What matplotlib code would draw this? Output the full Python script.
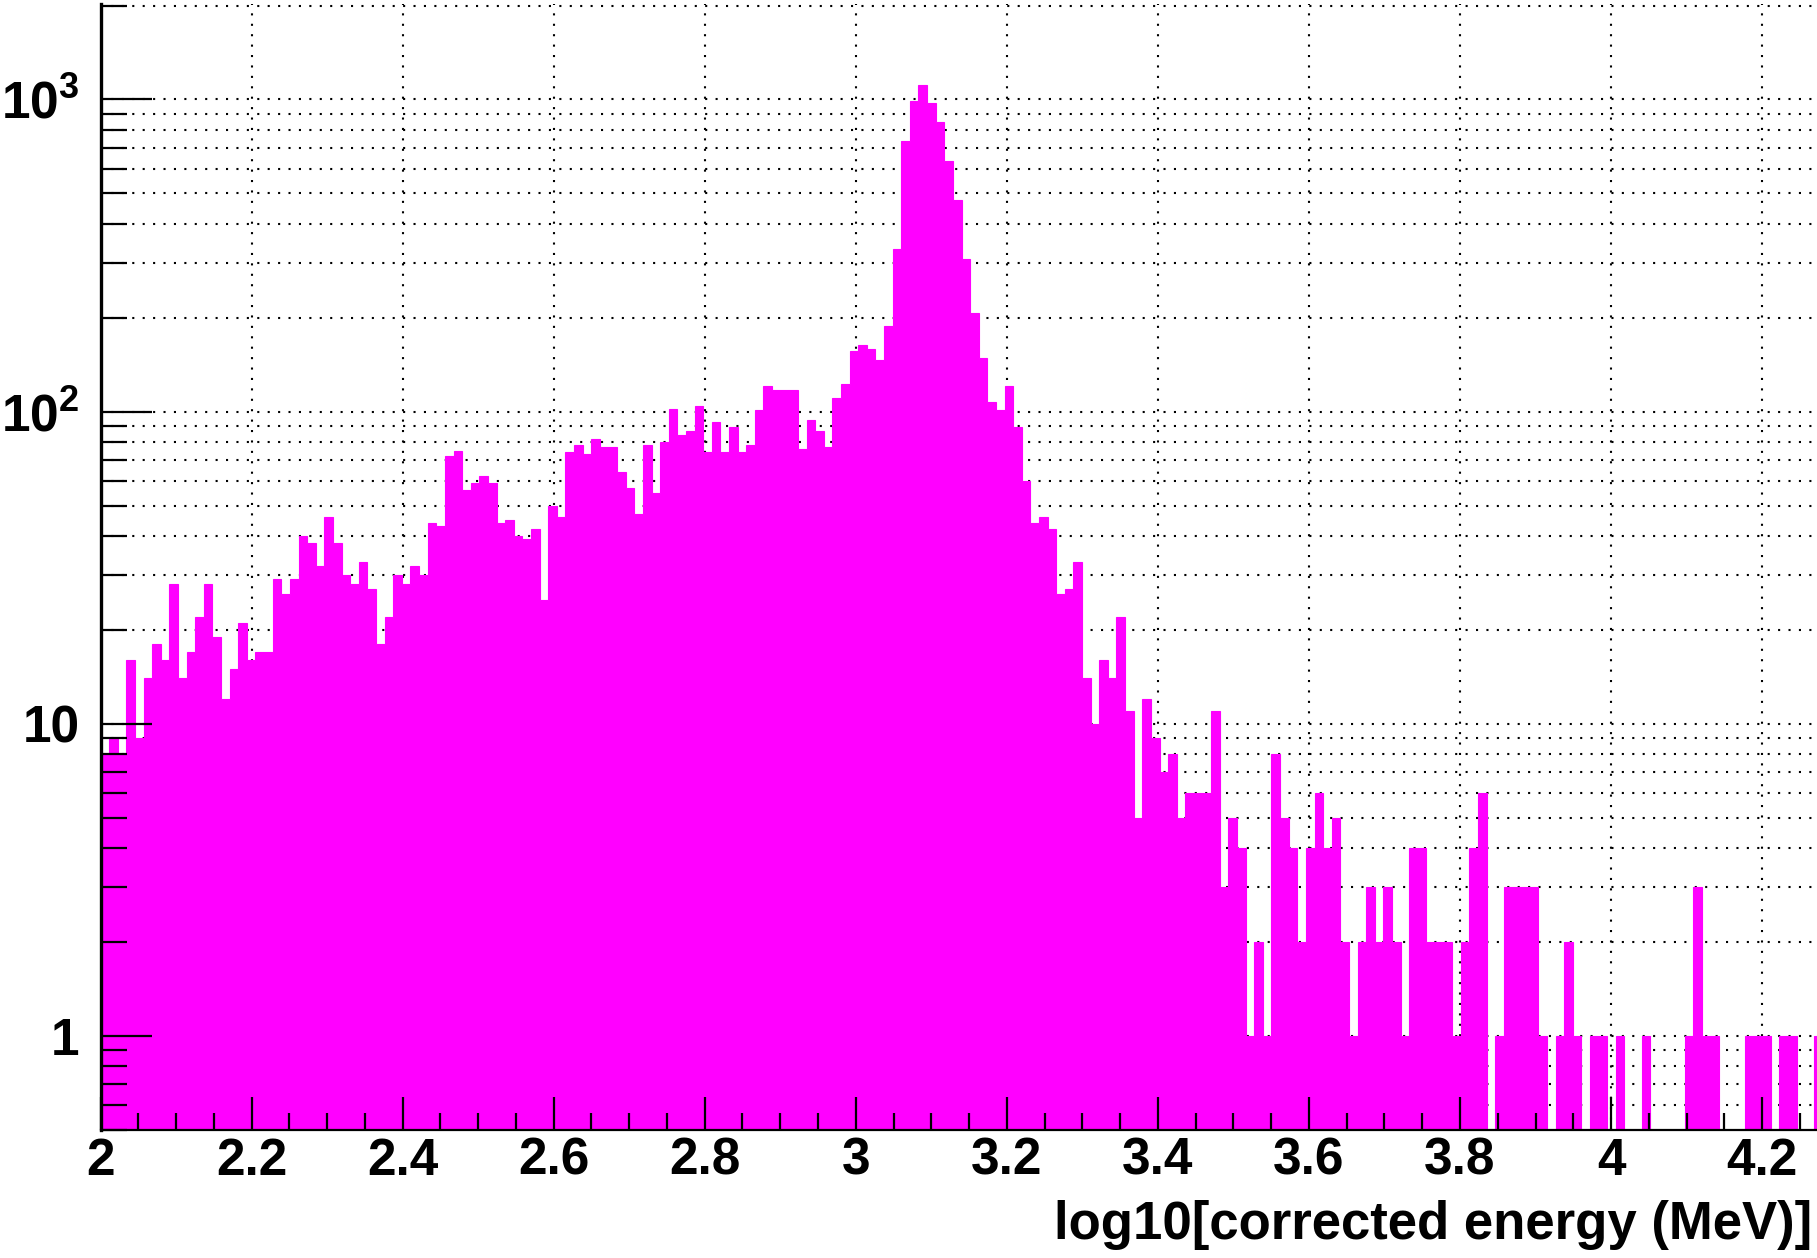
import numpy as np
import matplotlib
matplotlib.use("Agg")
import matplotlib.pyplot as plt
from matplotlib.ticker import LogLocator, FixedLocator, MultipleLocator, NullFormatter

# histogram settings (200 bins in log10 E)
x_min, x_max, n_bins = 2.0, 4.28, 200

# entries per bin
counts = [
    8, 9, 8, 16, 9, 14, 18, 16, 28, 14,
    17, 22, 28, 19, 12, 15, 21, 16, 17, 17,
    29, 26, 29, 40, 38, 32, 46, 38, 30, 28,
    33, 27, 18, 22, 30, 28, 32, 30, 44, 43,
    72, 75, 56, 59, 62, 59, 44, 45, 40, 39,
    42, 25, 50, 46, 74, 78, 73, 82, 77, 77,
    64, 57, 47, 78, 55, 80, 102, 84, 87, 104,
    74, 93, 74, 89, 74, 78, 101, 121, 117, 117,
    117, 76, 94, 87, 77, 111, 123, 156, 163, 159,
    146, 188, 332, 734, 986, 1113, 975, 847, 637, 475,
    309, 207, 149, 107, 101, 121, 89, 60, 44, 46,
    42, 26, 27, 33, 14, 10, 16, 14, 22, 11,
    5, 12, 9, 7, 8, 5, 6, 6, 6, 11,
    3, 5, 4, 1, 2, 1, 8, 5, 4, 2,
    4, 6, 4, 5, 2, 1, 2, 3, 2, 3,
    2, 1, 4, 4, 2, 2, 2, 1, 2, 4,
    6, 0, 1, 3, 3, 3, 3, 1, 0, 1,
    2, 1, 0, 1, 1, 0, 1, 0, 0, 1,
    0, 0, 0, 0, 1, 3, 1, 1, 0, 0,
    0, 1, 1, 1, 0, 1, 1, 0, 0, 1,
]

x_ticks = [2.0, 2.2, 2.4, 2.6, 2.8, 3.0, 3.2, 3.4, 3.6, 3.8, 4.0, 4.2]
x_tick_labels = ["2", "2.2", "2.4", "2.6", "2.8", "3", "3.2", "3.4", "3.6", "3.8", "4", "4.2"]
y_ticks = [1, 10, 100, 1000]
y_tick_labels = ["1", "10", "$10^{2}$", "$10^{3}$"]
y_min, y_max = 0.5, 2030
x_title = "log10[corrected energy (MeV)]"

plt.rcParams["font.family"] = ["Liberation Sans", "DejaVu Sans"]
plt.rcParams["font.weight"] = "bold"
plt.rcParams["mathtext.fontset"] = "custom"
plt.rcParams["mathtext.rm"] = "Liberation Sans:bold"
plt.rcParams["mathtext.it"] = "Liberation Sans:bold"
plt.rcParams["mathtext.bf"] = "Liberation Sans:bold"

edges = np.linspace(x_min, x_max, n_bins + 1)
centers = 0.5 * (edges[:-1] + edges[1:])

fig = plt.figure(figsize=(18.17, 12.58), dpi=100)
ax = fig.add_axes([100.5 / 1817, 128 / 1258, 1722 / 1817, 1126.5 / 1258])

ax.set_yscale("log", nonpositive="clip")
ax.hist(centers, bins=edges, weights=counts, histtype="stepfilled",
        facecolor="#ff00ff", edgecolor="#ff00ff", linewidth=0.8, zorder=1)

ax.set_xlim(x_min, x_max)
ax.set_ylim(y_min, y_max)

# dotted grid behind the histogram (ROOT style)
grid_style = dict(color="black", linewidth=1.5, linestyle=(0, (1.0, 4.0)), zorder=0.5)
for xv in x_ticks[1:]:
    ax.axvline(xv, **grid_style)
y_grid = [m * 10.0 ** e for e in range(-1, 4) for m in range(1, 10)]
for yv in y_grid:
    if y_min < yv < y_max:
        ax.axhline(yv, **grid_style)

# ticks
ax.xaxis.set_major_locator(FixedLocator(x_ticks))
ax.set_xticklabels(x_tick_labels)
ax.xaxis.set_minor_locator(MultipleLocator(0.05))
ax.yaxis.set_major_locator(FixedLocator(y_ticks))
ax.set_yticklabels(y_tick_labels)
ax.yaxis.set_minor_locator(LogLocator(base=10, subs=range(2, 10), numticks=20))
ax.yaxis.set_minor_formatter(NullFormatter())

ax.tick_params(axis="both", which="both", direction="in", colors="black",
               top=False, right=False, labelsize=37, width=1.6)
ax.tick_params(axis="x", which="major", length=24, pad=5)
ax.tick_params(axis="x", which="minor", length=12)
ax.tick_params(axis="y", which="major", length=37, pad=15)
ax.tick_params(axis="y", which="minor", length=19)
for lab in ax.get_xticklabels() + ax.get_yticklabels():
    lab.set_fontweight("bold")

ax.spines["top"].set_visible(False)
ax.spines["right"].set_visible(False)
ax.spines["left"].set_linewidth(2.4)
ax.spines["bottom"].set_linewidth(1.6)
ax.set_axisbelow(False)

ax.set_xlabel(x_title, fontsize=38, fontweight="bold", ha="right", va="top")
ax.xaxis.set_label_coords(0.9939, -0.062)

fig.savefig("out.png", dpi=100)
